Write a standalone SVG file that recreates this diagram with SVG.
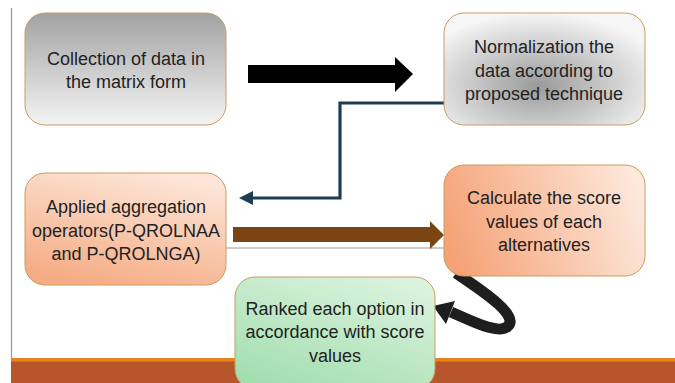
<svg xmlns="http://www.w3.org/2000/svg" width="675" height="383" viewBox="0 0 675 383">
<defs>
<linearGradient id="gGray" x1="0" y1="0" x2="0" y2="1">
<stop offset="0" stop-color="#a2a2a2"/><stop offset="1" stop-color="#f4f4f4"/>
</linearGradient>
<radialGradient id="gRad" cx="0.47" cy="0.65" r="0.65">
<stop offset="0" stop-color="#9a9a9a"/><stop offset="1" stop-color="#f6f6f6"/>
</radialGradient>
<linearGradient id="gOr1" x1="0.3" y1="1" x2="0.7" y2="0">
<stop offset="0" stop-color="#f5ac84"/><stop offset="1" stop-color="#fde6d9"/>
</linearGradient>
<linearGradient id="gOr2" x1="0" y1="0.6" x2="1" y2="0.4">
<stop offset="0" stop-color="#f5a276"/><stop offset="1" stop-color="#fde8dc"/>
</linearGradient>
<linearGradient id="gGr" x1="0.2" y1="1" x2="0.8" y2="0">
<stop offset="0" stop-color="#a3deaf"/><stop offset="1" stop-color="#dbf3de"/>
</linearGradient>
<style>
.box{stroke:#c89d5e;stroke-width:1}
.t{font-family:"Liberation Sans",Arial,sans-serif;font-size:18px;fill:#222;text-anchor:middle}
</style>
</defs>
<rect width="675" height="383" fill="#fff"/>
<line x1="11.5" y1="8" x2="11.5" y2="383" stroke="#8a98a8" stroke-width="1.2"/>
<rect x="11" y="358" width="664" height="25" fill="#b6562a"/>
<rect x="11" y="358" width="664" height="3.5" fill="#e8821f"/>

<g id="connectors">
<polygon points="248,65 395,65 395,57 413,74 395,92 395,83 248,83" fill="#000"/>
<polyline points="444,103 340,103 340,198 251,198" fill="none" stroke="#1e3d55" stroke-width="3.2"/>
<polygon points="239,198 253,191 253,205" fill="#1e3d55"/>
<line x1="226" y1="248" x2="444" y2="248" stroke="#9a9a9a" stroke-width="1.2"/>
<polygon points="233,227 430,227 430,221 444,235 430,249 430,242 233,242" fill="#7a4512"/>
<path d="M456,273 C478,288 522,316 507,327 C497,334 474,322 451,312" fill="none" stroke="#1e1e1e" stroke-width="11"/>
<polygon points="433,306 455,301 446,324" fill="#1e1e1e"/>
</g>

<g id="n1">
<rect class="box" x="25" y="13" width="201" height="112" rx="20" fill="url(#gGray)"/>
<text class="t" x="126" y="65">Collection of data in</text>
<text class="t" x="126" y="88">the matrix form</text>
</g>
<g id="n2">
<rect class="box" x="444" y="13" width="201" height="112" rx="20" fill="url(#gRad)"/>
<text class="t" x="544" y="53">Normalization the</text>
<text class="t" x="544" y="77">data according to</text>
<text class="t" x="544" y="100">proposed technique</text>
</g>
<g id="n3">
<rect class="box" x="25" y="173" width="201" height="112" rx="20" fill="url(#gOr1)"/>
<text class="t" x="126" y="213">Applied aggregation</text>
<text class="t" x="126" y="237">operators(P-QROLNAA</text>
<text class="t" x="126" y="260">and P-QROLNGA)</text>
</g>
<g id="n4">
<rect class="box" x="444" y="165" width="201" height="111" rx="20" fill="url(#gOr2)"/>
<text class="t" x="544" y="204">Calculate the score</text>
<text class="t" x="544" y="228">values of each</text>
<text class="t" x="544" y="251">alternatives</text>
</g>
<g id="n5">
<rect class="box" x="235" y="277" width="200" height="112" rx="20" fill="url(#gGr)"/>
<text class="t" x="335" y="315">Ranked each option in</text>
<text class="t" x="335" y="338">accordance with score</text>
<text class="t" x="335" y="362">values</text>
</g>
</svg>
